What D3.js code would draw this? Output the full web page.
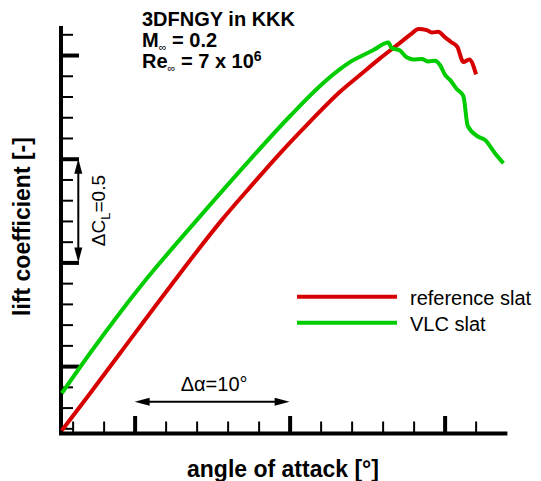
<!DOCTYPE html>
<html>
<head>
<meta charset="utf-8">
<script src="https://cdn.jsdelivr.net/npm/d3@7"></script>
<style>
  body { margin: 0; background: #fff; }
  svg { display: block; }
  text { font-family: "Liberation Sans", Arial, Helvetica, sans-serif; fill: #000; }
</style>
</head>
<body>
<svg id="chart" width="541" height="481"></svg>
<script>
// Lift polar, reference slat
const alphaRef = [-4.70, -2.88, -0.94, 2.28, 5.62, 7.45, 9.38, 11.32, 13.25, 14.54, 15.83, 16.48,
                  17.34, 17.83, 18.31, 18.85, 19.17, 19.59, 20.03, 20.41, 20.82, 21.21, 21.59, 22.03];
const clRef    = [0.689, 0.868, 1.062, 1.383, 1.704, 1.863, 2.026, 2.179, 2.323, 2.404, 2.484, 2.522,
                  2.572, 2.601, 2.625, 2.620, 2.609, 2.612, 2.585, 2.563, 2.539, 2.466, 2.479, 2.407];

// Lift polar, VLC slat
const alphaVlc = [-4.70, -2.88, 0.36, 4.01, 7.45, 10.03, 11.96, 13.25, 13.89, 14.54, 15.40, 16.37,
                  16.59, 17.12, 17.55, 17.98, 18.52, 18.95, 19.38, 19.70, 20.03, 20.35, 20.78, 21.21,
                  21.49, 22.17, 22.61, 23.25, 23.79];
const clVlc    = [0.869, 1.062, 1.383, 1.704, 1.996, 2.206, 2.351, 2.432, 2.466, 2.492, 2.524, 2.560,
                  2.534, 2.522, 2.489, 2.479, 2.481, 2.469, 2.473, 2.452, 2.404, 2.380, 2.336, 2.302,
                  2.158, 2.106, 2.090, 2.026, 1.978];

// Unlabelled tick positions
const alphaMajorTicks = [0, 10, 20];
const alphaMinorTicks = [-4, -2, 2, 4, 6, 8, 12, 14, 16, 18, 22];
const clMajorTicks = [1.0, 1.5, 2.0, 2.5];
const clMinorTicks = [0.7, 0.8, 0.9, 1.1, 1.2, 1.3, 1.4, 1.6, 1.7, 1.8, 1.9, 2.1, 2.2, 2.3, 2.4, 2.6];

const seriesNames = ["reference slat", "VLC slat"];
const seriesColors = ["#d70000", "#00cc00"];

const svg = d3.select("#chart");

const x = d3.scaleLinear().domain([-4.75, 24.05]).range([61, 507.4]);
const y = d3.scaleLinear().domain([0.675, 2.64]).range([433.5, 26]);

// Ticks
function styleTicks(g, w) {
  g.select(".domain").remove();
  g.selectAll(".tick line").attr("stroke", "#000").attr("stroke-width", w);
}
svg.append("g").attr("transform", `translate(0,${y.range()[0]})`)
  .call(d3.axisTop(x).tickValues(alphaMinorTicks).tickSize(12).tickSizeOuter(0).tickFormat(""))
  .call(g => styleTicks(g, 2));
svg.append("g").attr("transform", `translate(0,${y.range()[0]})`)
  .call(d3.axisTop(x).tickValues(alphaMajorTicks).tickSize(17.5).tickSizeOuter(0).tickFormat(""))
  .call(g => styleTicks(g, 4));
svg.append("g").attr("transform", `translate(${x.range()[0]},0)`)
  .call(d3.axisRight(y).tickValues(clMinorTicks).tickSize(12).tickSizeOuter(0).tickFormat(""))
  .call(g => styleTicks(g, 2));
svg.append("g").attr("transform", `translate(${x.range()[0]},0)`)
  .call(d3.axisRight(y).tickValues(clMajorTicks).tickSize(18).tickSizeOuter(0).tickFormat(""))
  .call(g => styleTicks(g, 4));

// Axis frame (left and bottom)
svg.append("path")
  .attr("d", `M${x.range()[0]},${y.range()[1]} V${y.range()[0]} H${x.range()[1]}`)
  .attr("fill", "none").attr("stroke", "#000").attr("stroke-width", 4)
  .attr("stroke-linejoin", "miter");

// Curves
const line = d3.line().x(d => x(d[0])).y(d => y(d[1])).curve(d3.curveMonotoneX);
const refData = alphaRef.map((a, i) => [a, clRef[i]]);
const vlcData = alphaVlc.map((a, i) => [a, clVlc[i]]);
[refData, vlcData].forEach((data, i) => {
  svg.append("path").datum(data)
    .attr("d", line)
    .attr("fill", "none")
    .attr("stroke", seriesColors[i])
    .attr("stroke-width", 4)
    .attr("stroke-linejoin", "round");
});

// Legend
const legend = svg.append("g");
seriesNames.forEach((name, i) => {
  const ly = 296.7 + i * 26;
  legend.append("line").attr("x1", 297).attr("x2", 397).attr("y1", ly).attr("y2", ly)
    .attr("stroke", seriesColors[i]).attr("stroke-width", 4);
  legend.append("text").attr("x", 410).attr("y", ly + 8)
    .attr("font-size", 20).text(name);
});

// Double-headed arrows
function arrow(x1, y1, x2, y2) {
  const g = svg.append("g");
  const len = 15, hw = 4;
  const dx = x2 - x1, dy = y2 - y1, L = Math.hypot(dx, dy);
  const ux = dx / L, uy = dy / L;
  g.append("line")
    .attr("x1", x1 + ux * len * 0.8).attr("y1", y1 + uy * len * 0.8)
    .attr("x2", x2 - ux * len * 0.8).attr("y2", y2 - uy * len * 0.8)
    .attr("stroke", "#000").attr("stroke-width", 2);
  const head = (tx, ty, sx, sy) => {
    const bx = tx + sx * len, by = ty + sy * len;
    return `M${tx},${ty} L${bx - sy * hw},${by + sx * hw} L${bx + sy * hw},${by - sx * hw} Z`;
  };
  g.append("path").attr("d", head(x1, y1, ux, uy)).attr("fill", "#000");
  g.append("path").attr("d", head(x2, y2, -ux, -uy)).attr("fill", "#000");
}

// ΔCL = 0.5 between two major CL ticks
const arrowX = 78.3;
arrow(arrowX, y(2.0), arrowX, y(1.5));
const dcl = svg.append("text")
  .attr("transform", `translate(105,${(y(2.0) + y(1.5)) / 2}) rotate(-90)`)
  .attr("text-anchor", "middle").attr("font-size", 19);
dcl.append("tspan").text("\u0394C");
dcl.append("tspan").attr("font-size", 13).attr("dy", 5).text("L");
dcl.append("tspan").attr("dy", -5).text("=0.5");

// Δα = 10° between two major alpha ticks
const arrowY = 401.7;
arrow(x(0), arrowY, x(10), arrowY);
svg.append("text").attr("x", (x(0) + x(10)) / 2 + 2).attr("y", 391)
  .attr("text-anchor", "middle").attr("font-size", 20).text("\u0394\u03b1=10\u00b0");

// Case annotation
const tx = 142;
svg.append("text").attr("x", tx).attr("y", 26).attr("font-size", 20).attr("font-weight", "bold")
  .text("3DFNGY in KKK");
const m = svg.append("text").attr("x", tx).attr("y", 47).attr("font-size", 20).attr("font-weight", "bold");
m.append("tspan").text("M");
m.append("tspan").attr("font-size", 11).attr("font-weight", "normal").attr("dy", 4).text("\u221e");
m.append("tspan").attr("dy", -4).text(" = 0.2");
const re = svg.append("text").attr("x", tx).attr("y", 68).attr("font-size", 20).attr("font-weight", "bold");
re.append("tspan").text("Re");
re.append("tspan").attr("font-size", 11).attr("font-weight", "normal").attr("dy", 4).text("\u221e");
re.append("tspan").attr("dy", -4).text(" = 7 x 10");
re.append("tspan").attr("font-size", 14).attr("dy", -7).text("6");

// Axis titles
svg.append("text").attr("x", 283).attr("y", 476.5).attr("text-anchor", "middle")
  .attr("font-size", 23).attr("font-weight", "bold").text("angle of attack [\u00b0]");
svg.append("text").attr("transform", "translate(30,226.5) rotate(-90)").attr("text-anchor", "middle")
  .attr("font-size", 23).attr("font-weight", "bold").text("lift coefficient [-]");
</script>
</body>
</html>
